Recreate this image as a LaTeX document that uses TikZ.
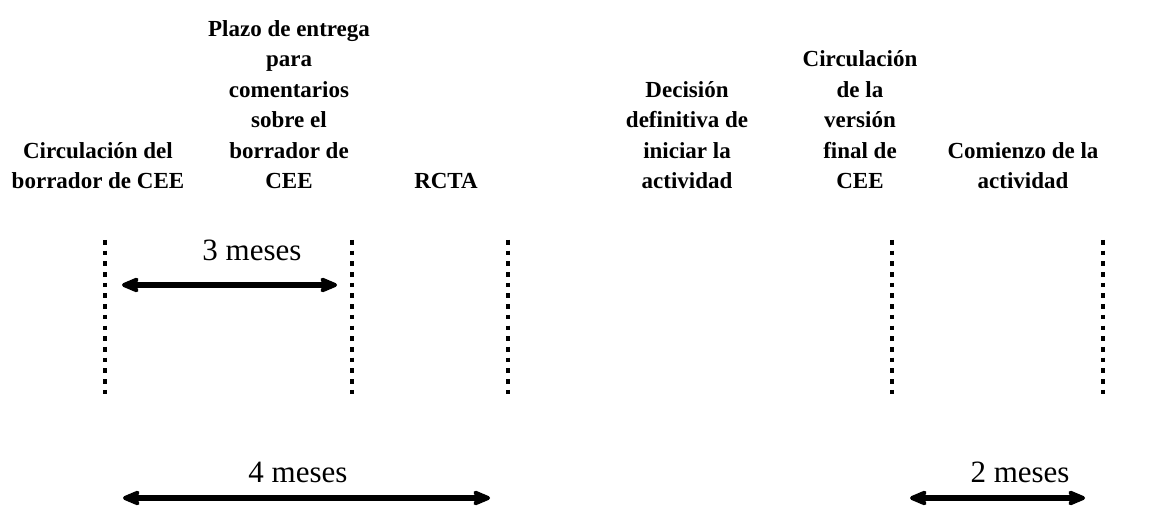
\documentclass[tikz,border=0pt]{standalone}
\usepackage{fontspec}
\setmainfont{Liberation Serif}
\usetikzlibrary{arrows.meta}
\tikzset{
  hito/.style={font={\fontsize{11.5pt}{15.25pt}\selectfont\bfseries},align=center,
    anchor=south,inner sep=0pt,text depth=0pt},
  plazo/.style={font={\fontsize{15.5pt}{18pt}\selectfont},anchor=base,inner sep=0pt},
  puntos/.style={line width=2.3pt,dash pattern=on 2.3pt off 3.05pt},
  punta/.tip={Stealth[length=12pt,width=10pt,inset=4pt,round]},
  flecha/.style={line width=2.7pt,punta-punta}}

\begin{document}
\begin{tikzpicture}[x=0.5pt,y=0.5pt]
\useasboundingbox (0,0) rectangle (1160,-506);
% etiquetas de los hitos
\node [hito] (h1) at (98,-189) {Circulación del\\borrador de CEE};
\node [hito] (h2) at (289,-189) {Plazo de entrega\\para\\comentarios\\sobre el\\borrador de\\CEE};
\node [hito] (h3) at (446,-189) {RCTA};
\node [hito] (h4) at (687,-189) {Decisión\\definitiva de\\iniciar la\\actividad};
\node [hito] (h5) at (860,-189) {Circulación\\de la\\versión\\final de\\CEE};
\node [hito] (h6) at (1023,-189) {Comienzo de la\\actividad};
% lineas punteadas
\foreach \x/\n in {105/1,352/2,508/3,892/5,1103/6} {
  \coordinate (t\n) at (\x,-240);
  \coordinate (b\n) at (\x,-395);
  \draw [puntos] (t\n) -- (b\n);
}
% duraciones
\coordinate (a1) at (122,-285);
\coordinate (a2) at (337,-285);
\draw [flecha] (a1) -- (a2);
\node [plazo] (m3) at (252,-261) {3 meses};
\coordinate (c1) at (123,-498);
\coordinate (c2) at (490,-498);
\draw [flecha] (c1) -- (c2);
\node [plazo] (m4) at (298,-483) {4 meses};
\coordinate (d1) at (910,-498);
\coordinate (d2) at (1085,-498);
\draw [flecha] (d1) -- (d2);
\node [plazo] (m2) at (1020,-483) {2 meses};
\end{tikzpicture}
\end{document}
